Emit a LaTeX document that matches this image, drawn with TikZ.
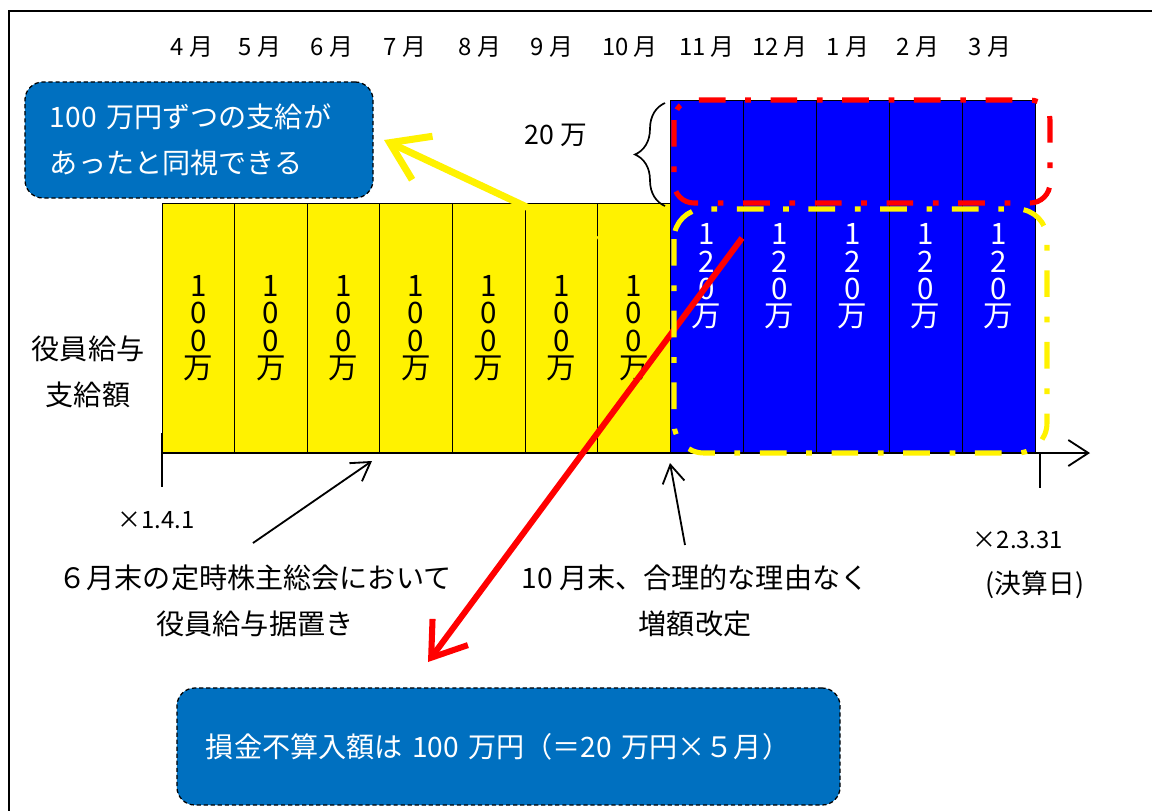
\documentclass[tikz,border=0pt]{standalone}
\usepackage{fontspec}
\setmainfont{Noto Sans CJK JP}
\usepackage{tikz}
\usetikzlibrary{positioning}
\usetikzlibrary{arrows.meta,decorations.pathreplacing}
\definecolor{callblue}{HTML}{0070C0}
\tikzstyle{novertex} = [draw=none, fill=none, text centered, inner sep=0pt]
\tikzstyle{month} = [novertex, font=\fontsize{17}{18}\selectfont]
\tikzstyle{note} = [novertex, align=center, font=\fontsize{20}{33}\selectfont]
\tikzstyle{date} = [novertex, font=\fontsize{17}{20}\selectfont]
\tikzstyle{ybar} = [rectangle, draw, fill=yellow, minimum width=1.814cm, minimum height=6.25cm, inner sep=0pt, outer sep=0pt, align=center, font=\fontsize{21}{19.5}\selectfont]
\tikzstyle{bbar} = [ybar, fill=blue, text=white, minimum width=1.825cm, minimum height=8.825cm]
\tikzstyle{callout} = [rectangle, draw, dash pattern=on 3pt off 2pt, line width=0.9pt, fill=callblue, text=white, rounded corners=0.45cm, align=left, font=\fontsize{20}{33}\selectfont]
\tikzstyle{pointer} = [draw, line width=1.3pt, -{Straight Barb[length=0.45cm,width=0.55cm]}]
\tikzstyle{axis} = [draw, line width=1.3pt, -{Straight Barb[length=0.5cm,width=0.65cm]}]
\tikzstyle{redline} = [draw=red, line width=4.3pt, -{Straight Barb[length=0.8cm,width=1.1cm]}]
\tikzstyle{yelline} = [draw=yellow, line width=5pt, -{Straight Barb[length=0.9cm,width=1.2cm]}]
\tikzstyle{reddash} = [draw=red, line width=3.6pt, dash pattern=on 19pt off 14pt on 4pt off 14pt, rounded corners=0.5cm]
\tikzstyle{yeldash} = [draw=yellow, line width=3.6pt, dash pattern=on 19pt off 14pt on 4pt off 14pt, rounded corners=0.75cm]

\begin{document}
\begin{tikzpicture}[x=0.025cm, y=-0.025cm]
    \useasboundingbox (0,0) rectangle (1152,810);
    % frame
    \draw[line width=1.4pt] (9,830) -- (9,11) -- (1170,11);

    % month row
    \node[month] (m4)  at (192,47) {4 月};
    \node[month] (m5)  at (260,47) {5 月};
    \node[month] (m6)  at (332,47) {6 月};
    \node[month] (m7)  at (405,47) {7 月};
    \node[month] (m8)  at (480,47) {8 月};
    \node[month] (m9)  at (552,47) {9 月};
    \node[month] (m10) at (630,47) {10 月};
    \node[month] (m11) at (707,47) {11 月};
    \node[month] (m12) at (780,47) {12 月};
    \node[month] (m1)  at (848,47) {1 月};
    \node[month] (m2)  at (918,47) {2 月};
    \node[month] (m3)  at (990,47) {3 月};

    % place bars
    \node[ybar] (Y1) at (198.3,328) {1\\0\\0\\万};
    \node[ybar, right=0pt of Y1] (Y2) {1\\0\\0\\万};
    \node[ybar, right=0pt of Y2] (Y3) {1\\0\\0\\万};
    \node[ybar, right=0pt of Y3] (Y4) {1\\0\\0\\万};
    \node[ybar, right=0pt of Y4] (Y5) {1\\0\\0\\万};
    \node[ybar, right=0pt of Y5] (Y6) {1\\0\\0\\万};
    \node[ybar, right=0pt of Y6] (Y7) {1\\0\\0\\万};
    \node[bbar, anchor=south west] (B1) at (Y7.south east) {1\\2\\0\\万};
    \node[bbar, right=0pt of B1] (B2) {1\\2\\0\\万};
    \node[bbar, right=0pt of B2] (B3) {1\\2\\0\\万};
    \node[bbar, right=0pt of B3] (B4) {1\\2\\0\\万};
    \node[bbar, right=0pt of B4] (B5) {1\\2\\0\\万};

    % axis
    \coordinate (axend) at (1090,453);
    \path[axis] (Y1.south west) -- (axend);
    \draw[line width=1.3pt] (162,433) -- (162,487);
    \draw[line width=1.3pt] (1040,453) -- (1040,488);

    % brace
    \coordinate (brbot) at (665,206);
    \coordinate (brtop) at (665,103);
    \draw[line width=1.2pt, decorate, decoration={brace, amplitude=0.75cm}] (brbot) -- (brtop);
    \node[novertex, font=\fontsize{19}{20}\selectfont] (amt) at (556,135) {20 万};

    % labels
    \node[note] (ylab) at (88,372) {役員給与\\支給額};
    \node[date] (startd) at (156,520) {×1.4.1};
    \node[date] (endd) at (1018,540) {×2.3.31};
    \node[date, font=\fontsize{19}{20}\selectfont] (kessan) at (1035,585) {(決算日)};
    \node[note] (hold) at (255,601) {６月末の定時株主総会において\\役員給与据置き};
    \node[note] (raise) at (695,601) {10 月末、合理的な理由なく\\増額改定};

    % draw edges
    \coordinate (hfrom) at (253,543);
    \coordinate (hto) at (372,461);
    \path[pointer] (hfrom) -- (hto);
    \coordinate (rfrom) at (685,545);
    \coordinate (rto) at (670,463);
    \path[pointer] (rfrom) -- (rto);
    \coordinate (rstart) at (742,238);
    \coordinate (rend) at (428,662);
    \path[redline] (rstart) -- (rend);

    % dash-dot outlines
    \draw[reddash] (674,100) rectangle (1050,203);
    \draw[yeldash] (674,209) rectangle (1047,453);

    % callouts
    \node[callout, minimum width=8.7cm, minimum height=2.9cm, text width=7.45cm, inner xsep=0.625cm] (callA) at (199,140) {100 万円ずつの支給が\\あったと同視できる};
    \node[callout, minimum width=16.575cm, minimum height=2.925cm, text width=15.125cm, inner xsep=0.725cm] (callB) at (508.5,746.5) {損金不算入額は 100 万円（＝20 万円×５月）};

    \coordinate (ystart) at (597,240);
    \coordinate (ytip) at (384,140);
    \path[yelline] (ystart) -- (ytip);
\end{tikzpicture}
\end{document}
